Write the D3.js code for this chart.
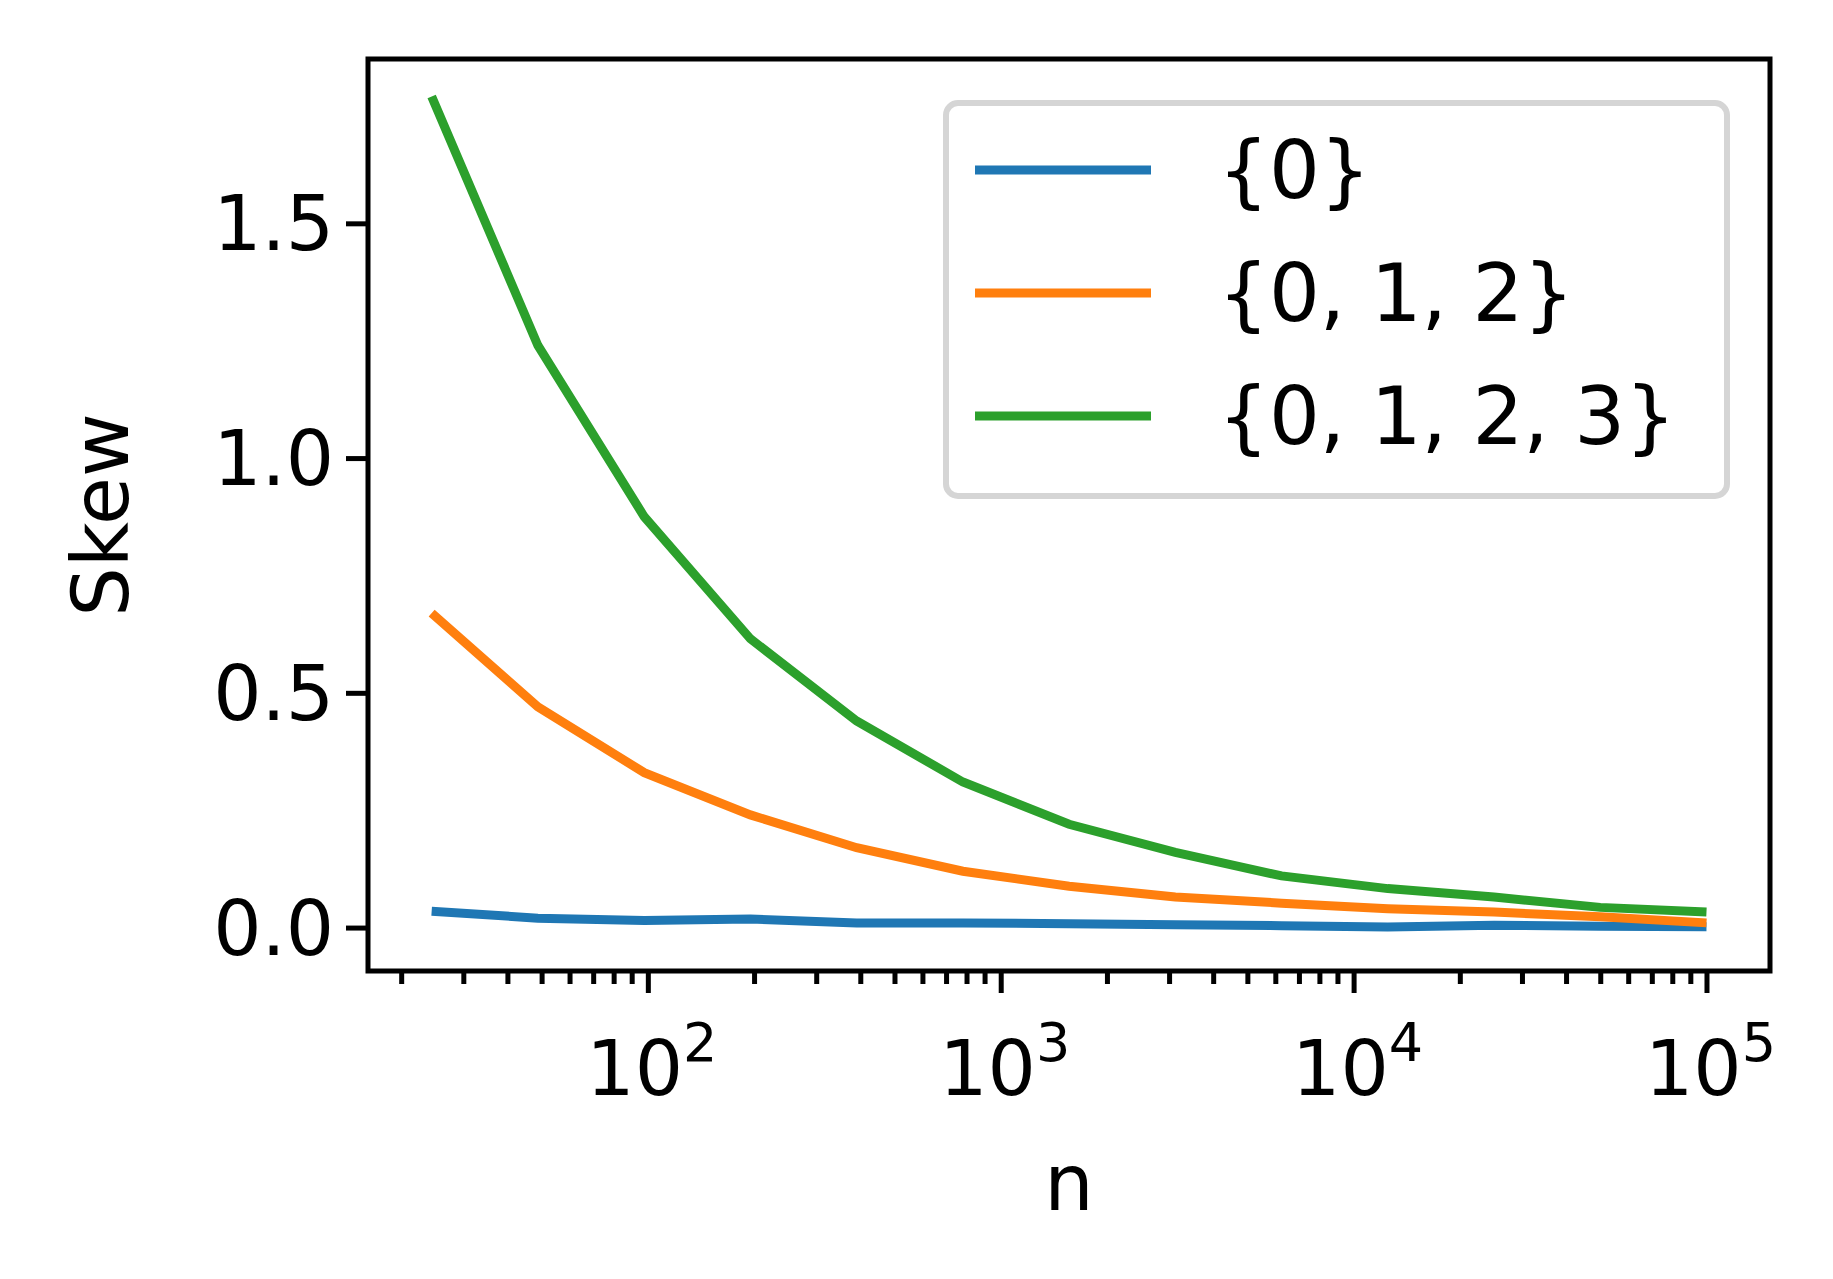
<!DOCTYPE html>
<html><head><meta charset="utf-8">
<script src="https://cdn.jsdelivr.net/npm/d3@7"></script>
<style>body{margin:0;background:#fff}</style></head>
<body><div id="chart"></div>
<script>
var nValues = [24.4, 48.8, 97.7, 195.3, 390.6, 781.3, 1562.5, 3125, 6250, 12500, 25000, 50000, 100000];
var seriesNames = ['{0}', '{0, 1, 2}', '{0, 1, 2, 3}'];
var seriesColors = ['#1f77b4', '#ff7f0e', '#2ca02c'];
var skew0 = [0.035, 0.02, 0.015, 0.018, 0.01, 0.01, 0.008, 0.006, 0.004, 0.001, 0.005, 0.003, 0.002];
var skew012 = [0.67, 0.47, 0.33, 0.24, 0.17, 0.12, 0.088, 0.065, 0.052, 0.04, 0.033, 0.023, 0.01];
var skew0123 = [1.77, 1.24, 0.875, 0.615, 0.44, 0.31, 0.22, 0.16, 0.11, 0.083, 0.065, 0.043, 0.033];
var yTicks = [0, 0.5, 1.0, 1.5];
var series = [skew0, skew012, skew0123];

var W = 1833, H = 1279, L = 368, R = 1770, T = 59, B = 971;
var font = 'DejaVu Sans, sans-serif';
var svg = d3.select('#chart').append('svg').attr('width', W).attr('height', H);
var x = d3.scaleLog().domain([Math.pow(10, 1.207), Math.pow(10, 5.18)]).range([L, R]);
var y = d3.scaleLinear().domain([-0.0925, 1.85]).range([B, T]);

svg.append('g').attr('transform', 'translate(0,' + B + ')')
  .call(d3.axisBottom(x).tickValues([100, 1000, 10000, 100000]).tickSize(22).tickFormat(''));
var minor = [];
for (var e = 1; e < 6; e++) for (var k = 2; k < 10; k++) {
  var v = k * Math.pow(10, e);
  if (v >= x.domain()[0] && v <= x.domain()[1]) minor.push(v);
}
svg.append('g').attr('transform', 'translate(0,' + B + ')')
  .call(d3.axisBottom(x).tickValues(minor).tickSize(13).tickFormat(''));
svg.selectAll('.domain').remove();
svg.selectAll('.tick line').attr('stroke', '#000').attr('stroke-width', 5);

[2, 3, 4, 5].forEach(function(p) {
  var t = svg.append('text').attr('x', x(Math.pow(10, p)) + 4).attr('y', 1095)
    .attr('text-anchor', 'middle').attr('font-family', font).attr('font-size', 76);
  t.append('tspan').text('10');
  t.append('tspan').attr('dy', -34).attr('font-size', 54).text(p);
});

var yAxis = svg.append('g').attr('transform', 'translate(' + L + ',0)')
  .call(d3.axisLeft(y).tickValues(yTicks).tickSize(22).tickPadding(12).tickFormat(d3.format('.1f')));
yAxis.select('.domain').remove();
yAxis.selectAll('.tick line').attr('stroke', '#000').attr('stroke-width', 5);
yAxis.selectAll('text').attr('font-family', font).attr('font-size', 76).attr('dy', '0.35em');

var line = d3.line().x(function(d, i) { return x(nValues[i]); }).y(function(d) { return y(d); });
series.forEach(function(s, i) {
  svg.append('path').datum(s).attr('d', line).attr('fill', 'none')
    .attr('stroke', seriesColors[i]).attr('stroke-width', 9);
});

svg.append('rect').attr('x', L).attr('y', T).attr('width', R - L).attr('height', B - T)
  .attr('fill', 'none').attr('stroke', '#000').attr('stroke-width', 5);

svg.append('text').attr('x', (L + R) / 2).attr('y', 1210).attr('text-anchor', 'middle')
  .attr('font-family', font).attr('font-size', 78).text('n');
svg.append('text').attr('transform', 'translate(128,' + (T + B) / 2 + ') rotate(-90)')
  .attr('text-anchor', 'middle').attr('font-family', font).attr('font-size', 78).text('Skew');

var lg = svg.append('g');
lg.append('rect').attr('x', 946).attr('y', 103).attr('width', 781).attr('height', 393).attr('rx', 12)
  .attr('fill', '#fff').attr('stroke', '#d5d5d5').attr('stroke-width', 6);
seriesNames.forEach(function(name, i) {
  var yy = 170 + i * 123;
  lg.append('line').attr('x1', 975).attr('x2', 1151).attr('y1', yy).attr('y2', yy)
    .attr('stroke', seriesColors[i]).attr('stroke-width', 9);
  lg.append('text').attr('x', 1218).attr('y', yy).attr('dy', '0.35em')
    .attr('font-family', font).attr('font-size', 80).text(name);
});
</script></body></html>
